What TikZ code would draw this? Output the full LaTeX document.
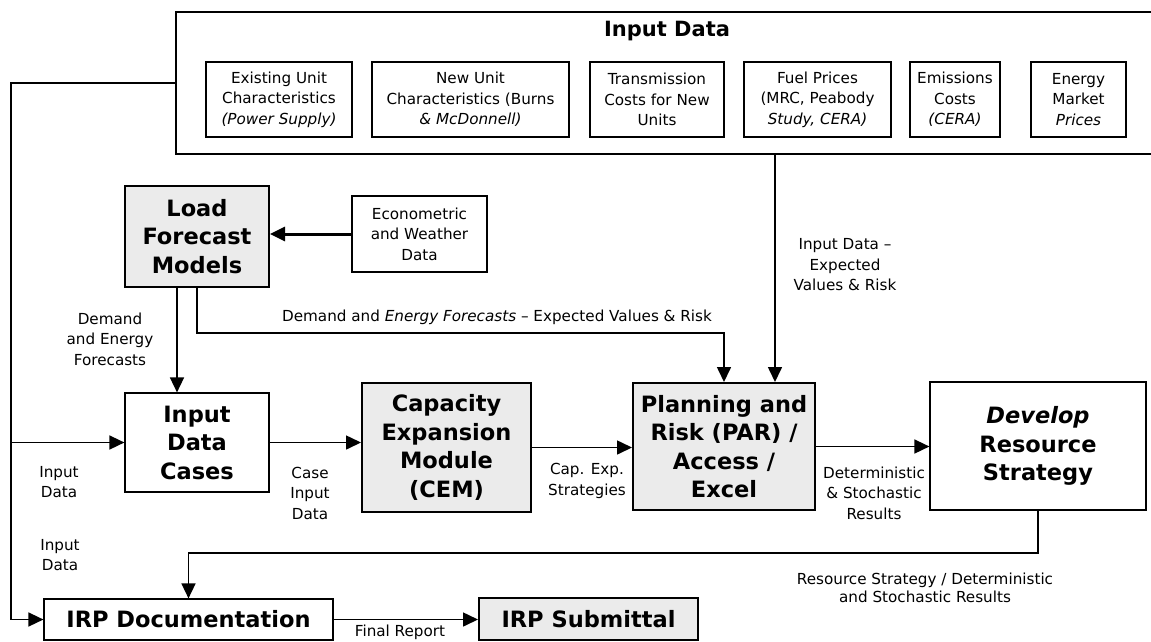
\documentclass[tikz,border=0pt]{standalone}
\usepackage{fontspec}
\setmainfont{DejaVu Sans}
\usetikzlibrary{arrows.meta}

\begin{document}
\begin{tikzpicture}[x=1pt, y=-1pt,
    box/.style={draw, line width=1.2pt, align=center, inner sep=0pt, font=\fontsize{15.2}{20.5}\selectfont},
    bigbox/.style={box, font=\fontsize{22.5}{28.5}\selectfont\bfseries},
    shaded/.style={bigbox, fill=black!8, line width=2pt},
    lbl/.style={align=center, inner sep=0pt, font=\fontsize{15.2}{20.5}\selectfont},
    link/.style={line width=1.6pt},
    arr/.style={line width=1.6pt, -{Triangle[length=15pt,width=14pt]}}]
    \useasboundingbox (0,0) rectangle (1151,641);

    % Input data frame
    \draw[line width=1.2pt] (1151,12) -- (176,12) -- (176,154) -- (1151,154);
    \node[font=\fontsize{21}{25}\selectfont\bfseries] (title) at (667,31) {Input Data};

    % Input data sources
    \node[box, minimum width=146pt, minimum height=75pt] (exist) at (279,99.5) {Existing Unit\\Characteristics\\\textit{(Power Supply)}};
    \node[box, minimum width=197pt, minimum height=75pt] (newunit) at (470.5,99.5) {New Unit\\Characteristics (Burns\\\textit{\& McDonnell)}};
    \node[box, minimum width=134pt, minimum height=75pt] (trans) at (657,99.5) {Transmission\\Costs for New\\Units};
    \node[box, minimum width=147pt, minimum height=75pt] (fuel) at (817.5,99.5) {Fuel Prices\\(MRC, Peabody\\\textit{Study, CERA)}};
    \node[box, minimum width=90pt, minimum height=75pt] (emis) at (955,99.5) {Emissions\\Costs\\\textit{(CERA)}};
    \node[box, minimum width=95pt, minimum height=75pt] (market) at (1078.5,99.5) {Energy\\Market\\\textit{Prices}};

    % Load forecast
    \node[shaded, minimum width=144pt, minimum height=101pt] (load) at (197,236.5) {Load\\Forecast\\Models};
    \node[box, minimum width=135pt, minimum height=76pt] (econ) at (419.5,234) {Econometric\\and Weather\\Data};

    % Main chain
    \node[bigbox, minimum width=144pt, minimum height=99pt] (cases) at (197,442.5) {Input\\Data\\Cases};
    \node[shaded, minimum width=169pt, minimum height=129pt] (cem) at (446.5,447.5) {Capacity\\Expansion\\Module\\(CEM)};
    \node[shaded, minimum width=182pt, minimum height=127pt] (par) at (724,446.5) {Planning and\\Risk (PAR) /\\Access /\\Excel};
    \node[bigbox, minimum width=216pt, minimum height=128pt] (develop) at (1038,446) {\textit{Develop}\\Resource\\Strategy};

    % Reporting
    \node[bigbox, minimum width=289pt, minimum height=41pt] (irpdoc) at (188.5,619.5) {IRP Documentation};
    \node[shaded, minimum width=219pt, minimum height=42pt] (irpsub) at (588.5,619) {IRP Submittal};

    % Helper points
    \coordinate (boxleft) at (176,83);
    \coordinate (lx) at (11,83);
    \coordinate (boxbot) at (775,154);
    \coordinate (dmid) at (0,333);
    \coordinate (fb) at (0,553);

    % Connectors
    \draw[arr, line width=3pt] (econ.west) -- (econ.west -| load.east);
    \draw[arr] ([xshift=-20pt]load.south) -- ([xshift=-20pt]load.south |- cases.north);
    \draw[arr] (load.south) -- (load.south |- dmid) -| (par.north);
    \draw[arr] (boxbot) -- (boxbot |- par.north);
    \draw[arr] (boxleft) -- (lx) |- (irpdoc.west);
    \draw[arr] (lx |- cases.west) -- (cases.west);
    \draw[arr] (cases.east) -- (cases.east -| cem.west);
    \draw[arr] (cem.east) -- (cem.east -| par.west);
    \draw[arr] (par.east) -- (par.east -| develop.west);
    \draw[arr] (develop.south) -- (develop.south |- fb) -| (irpdoc.north);
    \draw[arr] (irpdoc.east) -- (irpdoc.east -| irpsub.west);

    % Labels
    \node[lbl] (lblfc) at (497,317) {Demand and \textit{Energy Forecasts} -- Expected Values \& Risk};
    \node[lbl] (lblin) at (845,265) {Input Data --\\Expected\\Values \& Risk};
    \node[lbl] (lbldem) at (110,339) {Demand\\and Energy\\Forecasts};
    \node[lbl] (lblid1) at (59,482) {Input\\Data};
    \node[lbl] (lblcase) at (310,493) {Case\\Input\\Data};
    \node[lbl] (lblcap) at (587,481) {Cap. Exp.\\Strategies};
    \node[lbl] (lbldet) at (874,493) {Deterministic\\\& Stochastic\\Results};
    \node[lbl, font=\fontsize{15.2}{18}\selectfont] (lblres) at (925,588) {Resource Strategy / Deterministic\\and Stochastic Results};
    \node[lbl] (lblid2) at (60,555) {Input\\Data};
    \node[lbl] (lblfin) at (400,632) {Final Report};
\end{tikzpicture}
\end{document}
